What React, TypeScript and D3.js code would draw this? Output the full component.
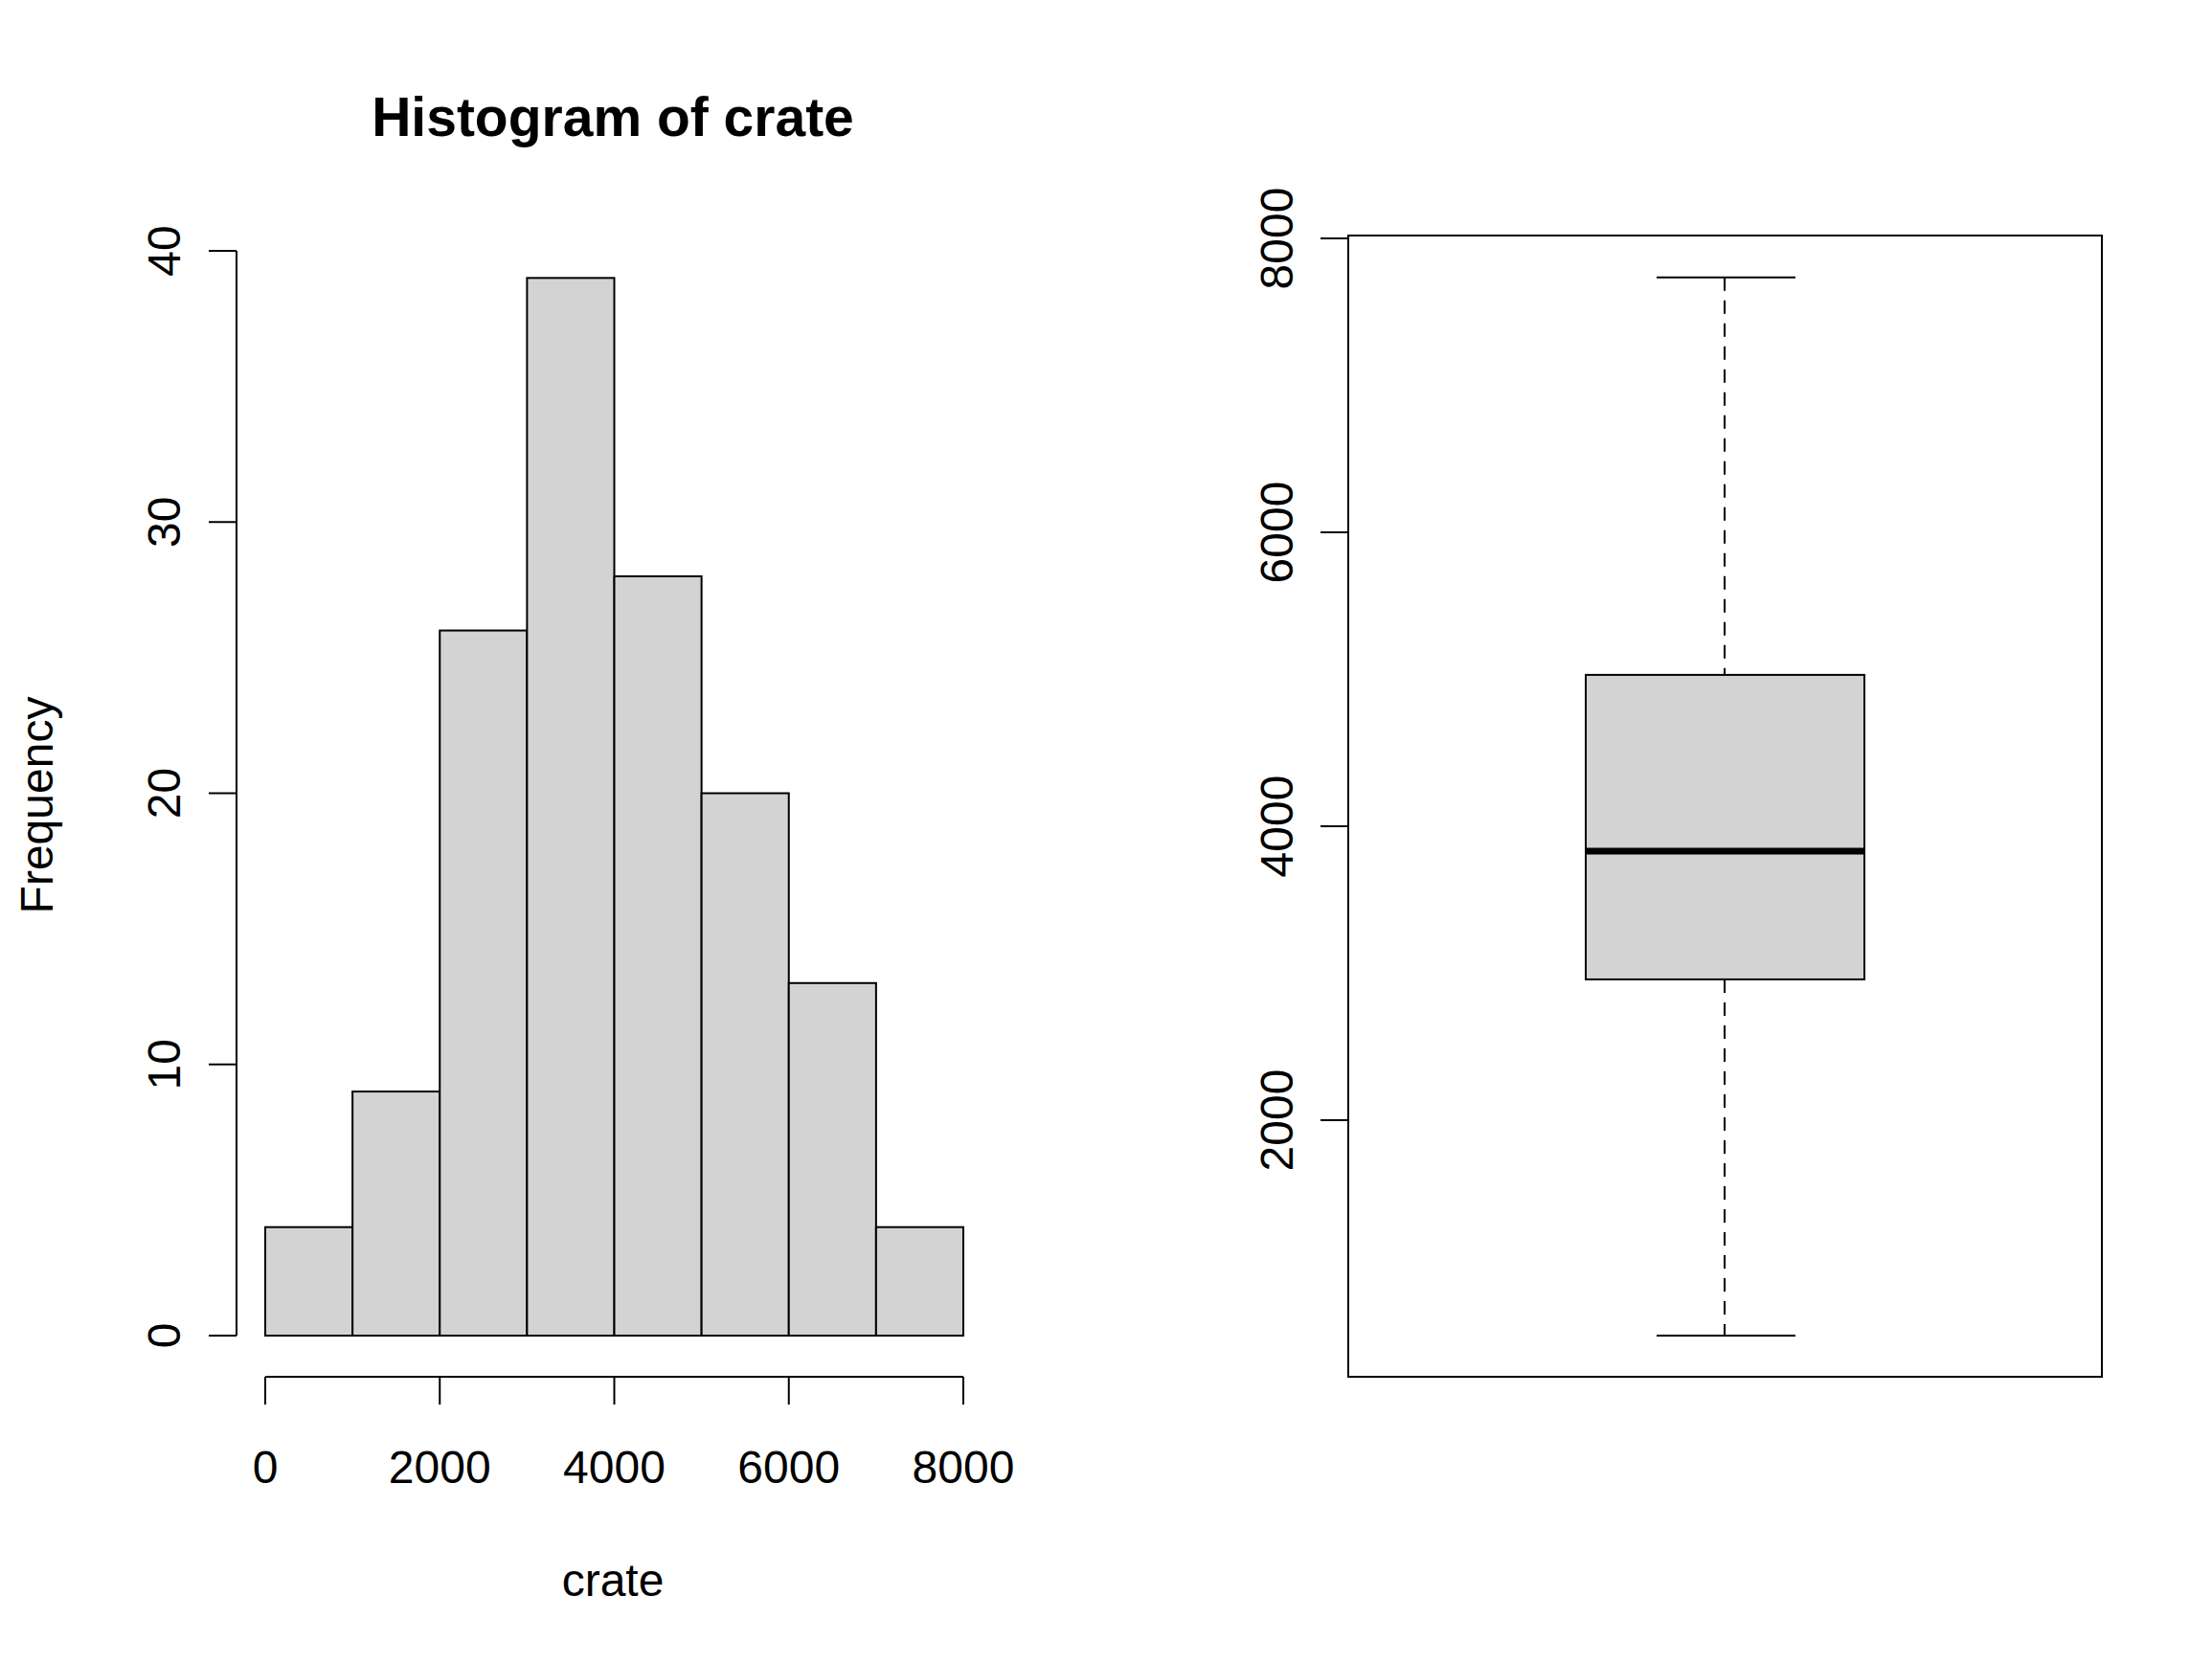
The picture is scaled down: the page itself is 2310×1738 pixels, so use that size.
import React from "react";
import * as d3 from "d3";

const binEdges = [0, 1000, 2000, 3000, 4000, 5000, 6000, 7000, 8000];
const counts = [4, 9, 26, 39, 28, 20, 13, 4];
const histYTicks = [0, 10, 20, 30, 40];
const histXTicks = [0, 2000, 4000, 6000, 8000];
const boxStats = { min: 535, q1: 2958, median: 3831, q3: 5030, max: 7735 };
const boxYTicks = [2000, 4000, 6000, 8000];

const W = 2310, H = 1738;
const font = "'Liberation Sans', Arial, sans-serif";

export default function App() {
  const x = d3.scaleLinear().domain([0, 8000]).range([277, 1006]);
  const y = d3.scaleLinear().domain([0, 40]).range([1395, 262]);
  const by = d3.scaleLinear().domain([2000, 8000]).range([1170, 249]);
  const bx0 = 1408, bx1 = 2195, by0 = 246, by1 = 1438;
  const cx = 1801, boxL = 1656, boxR = 1947, capL = 1730, capR = 1875;
  const fs = 48;
  return (
    <svg width={W} height={H} style={{ position: "absolute", left: 0, top: 0, background: "#fff" }} fontFamily={font}>
      <rect x={0} y={0} width={W} height={H} fill="#fff" />
      <text x={640} y={142} textAnchor="middle" fontWeight="bold" fontSize={57}>Histogram of crate</text>
      {counts.map((c, i) => (
        <rect key={i} x={x(binEdges[i])} y={y(c)} width={x(binEdges[i + 1]) - x(binEdges[i])} height={y(0) - y(c)}
          fill="#d3d3d3" stroke="#000" strokeWidth={2} />
      ))}
      <line x1={247} x2={247} y1={y(0)} y2={y(40)} stroke="#000" strokeWidth={2} />
      {histYTicks.map(t => (
        <g key={t}>
          <line x1={247} x2={218} y1={y(t)} y2={y(t)} stroke="#000" strokeWidth={2} />
          <text transform={`translate(188,${y(t)}) rotate(-90)`} textAnchor="middle" fontSize={fs}>{t}</text>
        </g>
      ))}
      <line x1={x(0)} x2={x(8000)} y1={1438} y2={1438} stroke="#000" strokeWidth={2} />
      {histXTicks.map(t => (
        <g key={t}>
          <line x1={x(t)} x2={x(t)} y1={1438} y2={1467} stroke="#000" strokeWidth={2} />
          <text x={x(t)} y={1549} textAnchor="middle" fontSize={fs}>{t}</text>
        </g>
      ))}
      <text x={640} y={1667} textAnchor="middle" fontSize={fs}>crate</text>
      <text transform={`translate(55,841) rotate(-90)`} textAnchor="middle" fontSize={fs}>Frequency</text>

      <rect x={bx0} y={by0} width={bx1 - bx0} height={by1 - by0} fill="none" stroke="#000" strokeWidth={2} />
      {boxYTicks.map(t => (
        <g key={t}>
          <line x1={bx0} x2={bx0 - 29} y1={by(t)} y2={by(t)} stroke="#000" strokeWidth={2} />
          <text transform={`translate(1350,${by(t)}) rotate(-90)`} textAnchor="middle" fontSize={fs}>{t}</text>
        </g>
      ))}
      <line x1={cx} x2={cx} y1={by(boxStats.max)} y2={by(boxStats.q3)} stroke="#000" strokeWidth={2} strokeDasharray="14,10" />
      <line x1={cx} x2={cx} y1={by(boxStats.q1)} y2={by(boxStats.min)} stroke="#000" strokeWidth={2} strokeDasharray="14,10" />
      <line x1={capL} x2={capR} y1={by(boxStats.max)} y2={by(boxStats.max)} stroke="#000" strokeWidth={2} />
      <line x1={capL} x2={capR} y1={by(boxStats.min)} y2={by(boxStats.min)} stroke="#000" strokeWidth={2} />
      <rect x={boxL} y={by(boxStats.q3)} width={boxR - boxL} height={by(boxStats.q1) - by(boxStats.q3)} fill="#d3d3d3" stroke="#000" strokeWidth={2} />
      <line x1={boxL} x2={boxR} y1={by(boxStats.median)} y2={by(boxStats.median)} stroke="#000" strokeWidth={7} />
    </svg>
  );
}
